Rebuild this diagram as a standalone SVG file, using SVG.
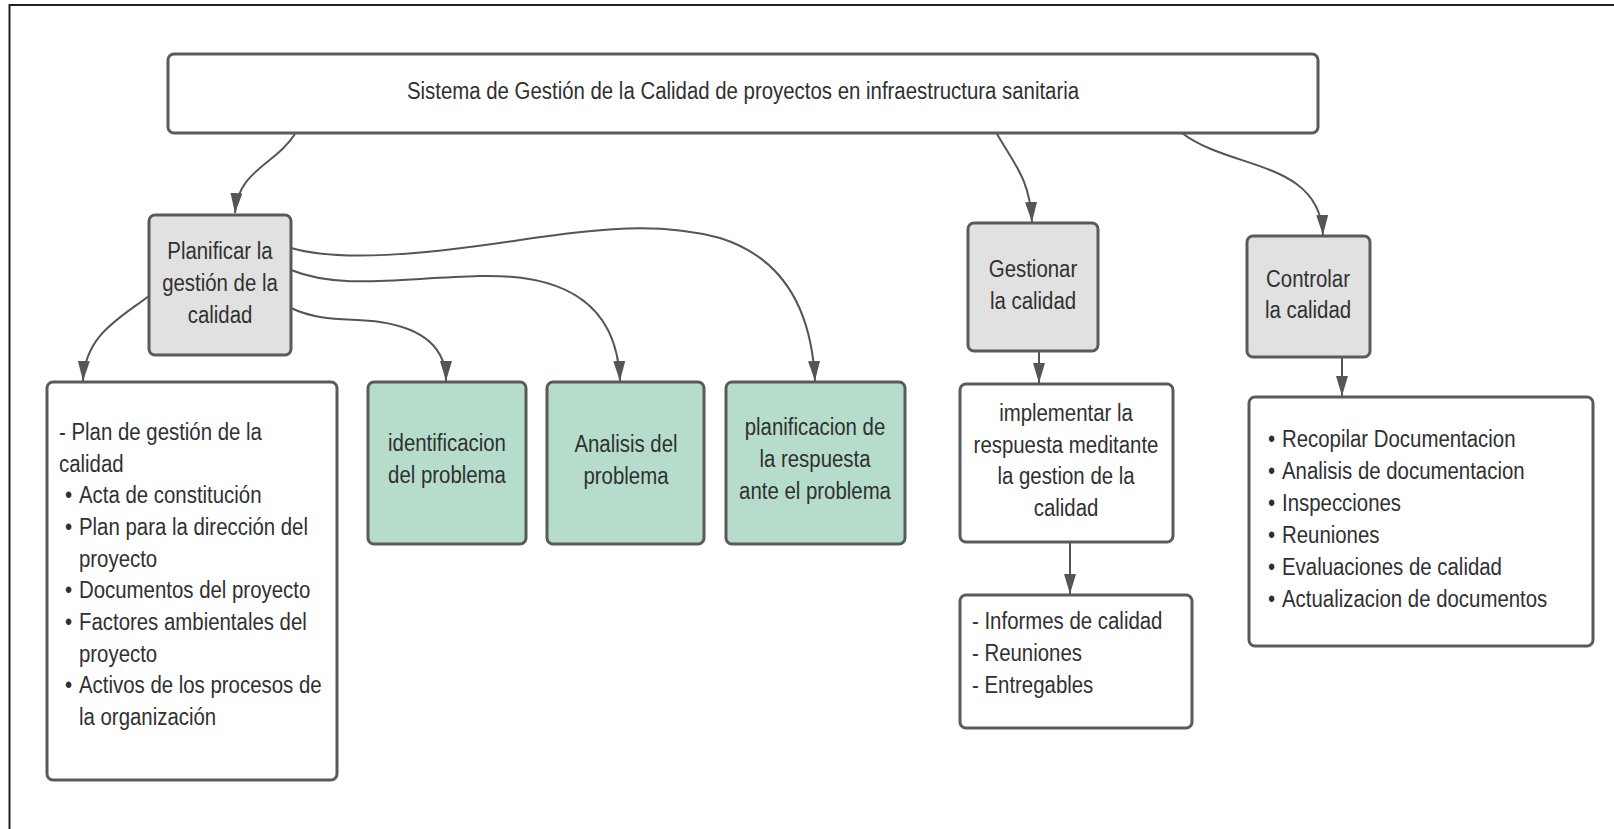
<svg xmlns="http://www.w3.org/2000/svg" width="1614" height="829" viewBox="0 0 1614 829">
<style>
.box{stroke:#5a5a5a;stroke-width:3}
.white{fill:#ffffff}
.gray{fill:#e1e1e1}
.green{fill:#b6ddcc}
.t{font-family:"Liberation Sans",Arial,sans-serif;font-size:24.5px;fill:#303030}
.c{text-anchor:middle}
.conn{fill:none;stroke:#555555;stroke-width:2}
.frame{stroke:#222222;stroke-width:2;fill:none}
</style>
<defs>
<marker id="ah" markerUnits="userSpaceOnUse" markerWidth="22" markerHeight="12" refX="20" refY="6" orient="auto">
<path d="M0,0 L20,6 L0,12 z" fill="#555555"/>
</marker>
</defs>
<rect width="1614" height="829" fill="#ffffff"/>
<path class="frame" d="M9.5,829 L9.5,5 L1614,5"/>

<g id="connectors">
<path class="conn" marker-end="url(#ah)" d="M295,134 C275,165 238,170 235,213"/>
<path class="conn" marker-end="url(#ah)" d="M997,134 C1015,165 1030,180 1032,222"/>
<path class="conn" marker-end="url(#ah)" d="M1182,133 C1230,170 1320,160 1323,235"/>
<path class="conn" marker-end="url(#ah)" d="M149,296 C120,318 85,335 83,381"/>
<path class="conn" marker-end="url(#ah)" d="M291,308 C320,322 350,318 380,322 C420,328 446,345 446,381"/>
<path class="conn" marker-end="url(#ah)" d="M291,270 C340,290 400,278 480,276 C560,274 617,300 620,381"/>
<path class="conn" marker-end="url(#ah)" d="M291,248 C340,262 420,255 520,240 C600,228 660,222 720,238 C790,260 812,320 815,381"/>
<path class="conn" marker-end="url(#ah)" d="M1039,352 L1039,383"/>
<path class="conn" marker-end="url(#ah)" d="M1070,543 L1070,594"/>
<path class="conn" marker-end="url(#ah)" d="M1342,358 L1342,396"/>
</g>

<g id="title">
<rect class="box white" x="168" y="54" width="1150" height="79" rx="6"/>
<g transform="translate(743,0) scale(0.833,1)"><text class="t c" x="0" y="99">Sistema de Gestión de la Calidad de proyectos en infraestructura sanitaria</text></g>
</g>

<g id="planificar">
<rect class="box gray" x="149" y="215" width="142" height="140" rx="6"/>
<g transform="translate(220,0) scale(0.833,1)">
<text class="t c" x="0" y="259">Planificar la</text>
<text class="t c" x="0" y="291">gestión de la</text>
<text class="t c" x="0" y="323">calidad</text>
</g>
</g>

<g id="plan-list">
<rect class="box white" x="47" y="382" width="290" height="398" rx="6"/>
<g transform="translate(59,0) scale(0.833,1)">
<text class="t" x="0" y="440">- Plan de gestión de la</text>
<text class="t" x="0" y="472">calidad</text>
<text class="t" y="503"><tspan x="7.2">•</tspan><tspan x="24">Acta de constitución</tspan></text>
<text class="t" y="535"><tspan x="7.2">•</tspan><tspan x="24">Plan para la dirección del</tspan></text>
<text class="t" x="24" y="567">proyecto</text>
<text class="t" y="598"><tspan x="7.2">•</tspan><tspan x="24">Documentos del proyecto</tspan></text>
<text class="t" y="630"><tspan x="7.2">•</tspan><tspan x="24">Factores ambientales del</tspan></text>
<text class="t" x="24" y="662">proyecto</text>
<text class="t" y="693"><tspan x="7.2">•</tspan><tspan x="24">Activos de los procesos de</tspan></text>
<text class="t" x="24" y="725">la organización</text>
</g>
</g>

<g id="identificacion">
<rect class="box green" x="368" y="382" width="158" height="162" rx="6"/>
<g transform="translate(447,0) scale(0.833,1)">
<text class="t c" x="0" y="451">identificacion</text>
<text class="t c" x="0" y="483">del problema</text>
</g>
</g>

<g id="analisis">
<rect class="box green" x="547" y="382" width="157" height="162" rx="6"/>
<g transform="translate(626,0) scale(0.833,1)">
<text class="t c" x="0" y="452">Analisis del</text>
<text class="t c" x="0" y="484">problema</text>
</g>
</g>

<g id="planificacion">
<rect class="box green" x="726" y="382" width="179" height="162" rx="6"/>
<g transform="translate(815,0) scale(0.833,1)">
<text class="t c" x="0" y="435">planificacion de</text>
<text class="t c" x="0" y="467">la respuesta</text>
<text class="t c" x="0" y="499">ante el problema</text>
</g>
</g>

<g id="gestionar">
<rect class="box gray" x="968" y="223" width="130" height="128" rx="6"/>
<g transform="translate(1033,0) scale(0.833,1)">
<text class="t c" x="0" y="277">Gestionar</text>
<text class="t c" x="0" y="309">la calidad</text>
</g>
</g>

<g id="implementar">
<rect class="box white" x="960" y="384" width="213" height="158" rx="6"/>
<g transform="translate(1066,0) scale(0.833,1)">
<text class="t c" x="0" y="421">implementar la</text>
<text class="t c" x="0" y="453">respuesta meditante</text>
<text class="t c" x="0" y="484">la gestion de la</text>
<text class="t c" x="0" y="516">calidad</text>
</g>
</g>

<g id="informes">
<rect class="box white" x="960" y="595" width="232" height="133" rx="6"/>
<g transform="translate(972,0) scale(0.833,1)">
<text class="t" x="0" y="629">- Informes de calidad</text>
<text class="t" x="0" y="661">- Reuniones</text>
<text class="t" x="0" y="693">- Entregables</text>
</g>
</g>

<g id="controlar">
<rect class="box gray" x="1247" y="236" width="123" height="121" rx="6"/>
<g transform="translate(1308,0) scale(0.833,1)">
<text class="t c" x="0" y="287">Controlar</text>
<text class="t c" x="0" y="318">la calidad</text>
</g>
</g>

<g id="controlar-list">
<rect class="box white" x="1249" y="397" width="344" height="249" rx="6"/>
<g transform="translate(1268,0) scale(0.833,1)">
<text class="t" y="447"><tspan x="0">•</tspan><tspan x="16.8">Recopilar Documentacion</tspan></text>
<text class="t" y="479"><tspan x="0">•</tspan><tspan x="16.8">Analisis de documentacion</tspan></text>
<text class="t" y="511"><tspan x="0">•</tspan><tspan x="16.8">Inspecciones</tspan></text>
<text class="t" y="543"><tspan x="0">•</tspan><tspan x="16.8">Reuniones</tspan></text>
<text class="t" y="575"><tspan x="0">•</tspan><tspan x="16.8">Evaluaciones de calidad</tspan></text>
<text class="t" y="607"><tspan x="0">•</tspan><tspan x="16.8">Actualizacion de documentos</tspan></text>
</g>
</g>
</svg>
